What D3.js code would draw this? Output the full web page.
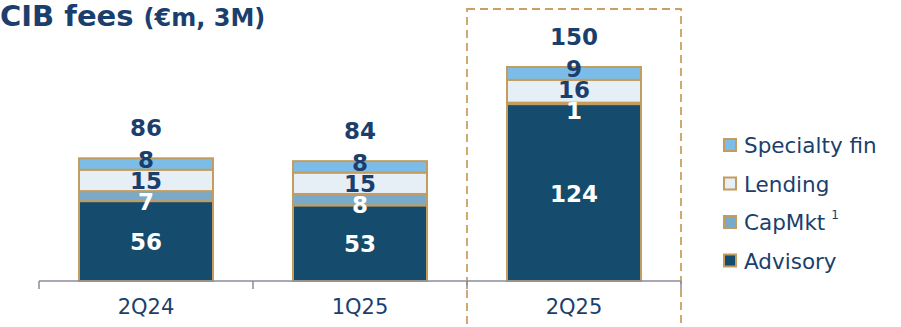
<!DOCTYPE html>
<html>
<head>
<meta charset="utf-8">
<script src="https://cdn.jsdelivr.net/npm/d3@7"></script>
<style>
  body { margin: 0; background: #fff; }
  svg { display: block; font-family: "DejaVu Sans", sans-serif; }
</style>
</head>
<body>
<script>
"use strict";
const quarters = ["2Q24", "1Q25", "2Q25"];
const seriesNames = ["Advisory", "CapMkt", "Lending", "Specialty fin"];
const advisory = [56, 53, 124];
const capMkt = [7, 8, 1];
const lending = [15, 15, 16];
const specialtyFin = [8, 8, 9];
const totals = [86, 84, 150];
const legendOrder = ["Specialty fin", "Lending", "CapMkt", "Advisory"];

const W = 901, H = 327;
const navy = "#1b3f6c";
const fills = {"Advisory": "#154b6d", "CapMkt": "#7aaac9", "Lending": "#e6eef6", "Specialty fin": "#7bbde8"};
const textFill = {"Advisory": "#fff", "CapMkt": "#fff", "Lending": navy, "Specialty fin": navy};
const gold = "#c39c5f";

const rows = quarters.map((q, i) => ({
  q: q, "Advisory": advisory[i], "CapMkt": capMkt[i], "Lending": lending[i], "Specialty fin": specialtyFin[i], total: totals[i]
}));
const stacked = d3.stack().keys(seriesNames)(rows);

const svg = d3.select("body").append("svg").attr("width", W).attr("height", H);

const x = d3.scaleBand().domain(quarters).range([39, 681]).paddingInner(0).paddingOuter(0);
const y = d3.scaleLinear().domain([0, 150]).range([281, 67]);
const barW = 134;
const barX = q => x(q) + (x.bandwidth() - barW) / 2;

// highlight box around last quarter
svg.append("rect")
  .attr("x", x("2Q25")).attr("y", 9)
  .attr("width", x.bandwidth()).attr("height", 340)
  .attr("fill", "none").attr("stroke", "#c9a062")
  .attr("stroke-width", 1.8).attr("stroke-dasharray", "8,5");

// title
const title = svg.append("text").attr("x", 0).attr("y", 26).attr("fill", navy).attr("font-weight", "bold");
title.append("tspan").attr("font-size", 29).text("CIB fees ");
title.append("tspan").attr("font-size", 24).text("(€m, 3M)");

// bars
const layer = svg.selectAll("g.layer").data(stacked).enter().append("g").attr("class", "layer");
layer.selectAll("rect").data(d => d.map(s => ({s: s, key: d.key}))).enter().append("rect")
  .attr("x", d => barX(d.s.data.q))
  .attr("y", d => y(d.s[1]))
  .attr("width", barW)
  .attr("height", d => y(d.s[0]) - y(d.s[1]))
  .attr("fill", d => fills[d.key])
  .attr("stroke", gold).attr("stroke-width", 2);

// axis
const axis = svg.append("g").attr("transform", "translate(0,281)");
axis.append("line").attr("x1", 39).attr("x2", 681).attr("stroke", "#8a8e9b").attr("stroke-width", 1.5);
axis.selectAll("line.tick").data(quarters.concat(["end"])).enter().append("line")
  .attr("x1", (d, i) => 39 + i * x.bandwidth()).attr("x2", (d, i) => 39 + i * x.bandwidth())
  .attr("y1", 0).attr("y2", 8).attr("stroke", "#8a8e9b").attr("stroke-width", 1.5);
axis.selectAll("text").data(quarters).enter().append("text")
  .attr("x", d => x(d) + x.bandwidth() / 2).attr("y", 33)
  .attr("text-anchor", "middle").attr("fill", navy).attr("font-size", 21)
  .text(d => d);

// segment labels, spread apart when crowded
rows.forEach((r, i) => {
  const labels = [];
  stacked.forEach(st => {
    const s = st[i];
    labels.push({key: st.key, v: s[1] - s[0], cy: (y(s[0]) + y(s[1])) / 2});
  });
  const gap = 21;
  for (let it = 0; it < 50; it++) {
    for (let k = 0; k < labels.length - 1; k++) {
      const a = labels[k], b = labels[k + 1];
      const d = a.cy - b.cy;
      if (d < gap) {
        const push = (gap - d) / 2;
        a.cy += push; b.cy -= push;
      }
    }
  }
  svg.selectAll(null).data(labels).enter().append("text")
    .attr("x", barX(r.q) + barW / 2).attr("y", d => d.cy + 9)
    .attr("text-anchor", "middle").attr("font-weight", "bold").attr("font-size", 23)
    .attr("fill", d => textFill[d.key]).text(d => d.v);
  svg.append("text")
    .attr("x", barX(r.q) + barW / 2).attr("y", y(r.total) - 22)
    .attr("text-anchor", "middle").attr("font-weight", "bold").attr("font-size", 23)
    .attr("fill", navy).text(r.total);
});

// legend
const lg = svg.selectAll("g.leg").data(legendOrder).enter().append("g")
  .attr("transform", (d, i) => "translate(724," + (145 + i * 38.5) + ")");
lg.append("rect").attr("x", 0).attr("y", -6).attr("width", 12).attr("height", 12)
  .attr("fill", d => fills[d]).attr("stroke", gold).attr("stroke-width", 2);
const lt = lg.append("text").attr("x", 20).attr("y", 8).attr("fill", navy).attr("font-size", 21.5);
lt.append("tspan").text(d => d);
lt.filter(d => d === "CapMkt").append("tspan").attr("dx", 6).attr("dy", -11).attr("font-size", 12).text("1");
</script>
</body>
</html>
